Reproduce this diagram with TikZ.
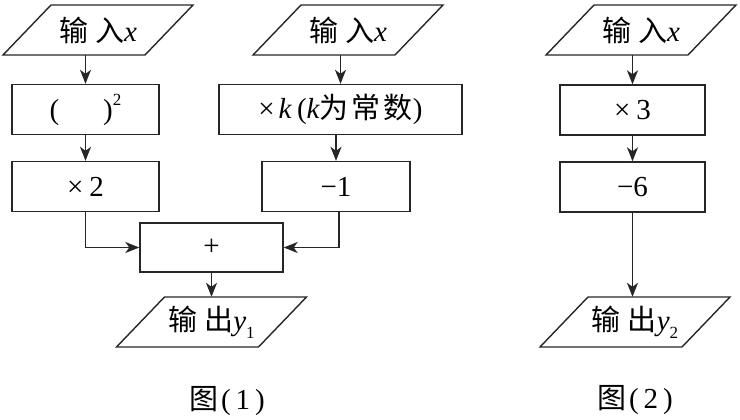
\documentclass[tikz,border=0pt]{standalone}
\usepackage{fontspec}
\setmainfont{Liberation Serif}
\newfontfamily\cjk{Noto Sans CJK SC}
\usetikzlibrary{arrows.meta}
\tikzset{
  box/.style={draw=black!85, line width=1.4pt, rectangle, minimum height=50pt, inner sep=0pt},
  ptext/.style={minimum height=50pt, minimum width=60pt, inner sep=0pt},
  pline/.style={draw=black!85, line width=1.4pt, line join=miter},
  arr/.style={draw=black!85, line width=1.4pt, -{Stealth[length=14pt,width=11pt,inset=4pt]}},
  captext/.style={inner sep=0pt},
}
\newcommand{\para}[4]{%
  \node[ptext] (#1) at (#2,#3) {#4};
  \draw[pline] ([shift={(-47,-25)}]#1.center) -- ([shift={(95,-25)}]#1.center)
    -- ([shift={(47,25)}]#1.center) -- ([shift={(-95,25)}]#1.center) -- cycle;}
\newcommand{\sm}[1]{{\fontsize{17}{17}\selectfont #1}}
\newcommand{\gap}{\hspace{7pt}}
\begin{document}
\begin{tikzpicture}[x=1pt,y=-1pt,font=\fontsize{29}{33}\selectfont]
\useasboundingbox (0,0) rectangle (740,420);
% figure 1, left column
\para{in1}{98}{30}{{\cjk 输\gap 入}\textit{x}}
\node[box, minimum width=147pt] (sq) at (85.5,109.5) {(\hspace{44pt})\raisebox{14pt}{\sm{2}}};
\node[box, minimum width=147pt] (m2) at (85.5,186.5) {×\hspace{6pt}2};
% figure 1, right column
\para{in2}{348}{30}{{\cjk 输\gap 入}\textit{x}}
\node[box, minimum width=243pt] (mk) at (340.5,109.5) {×\hspace{4pt}\textit{k}\hspace{5pt}(\textit{k}{\cjk 为\hspace{3pt}常\hspace{3pt}数})};
\node[box, minimum width=148pt] (m1) at (336,186.5) {−1};
% merge
\node[box, minimum width=143pt, minimum height=49pt] (plus) at (211.5,247.5) {+};
\para{out1}{211.5}{322}{{\cjk 输\gap 出}\textit{y}\raisebox{-8pt}{\sm{1}}}
% figure 2
\para{in3}{641}{30}{{\cjk 输\gap 入}\textit{x}}
\node[box, minimum width=145pt] (m3) at (632.5,110) {×\hspace{6pt}3};
\node[box, minimum width=145pt] (m6) at (632.5,187) {−6};
\para{out2}{635}{322}{{\cjk 输\gap 出}\textit{y}\raisebox{-8pt}{\sm{2}}}
% captions
\node[captext] (c1) at (227,401) {{\cjk 图}\hspace{3pt}(\hspace{5pt}1\hspace{5pt})};
\node[captext] (c2) at (635,400) {{\cjk 图}\hspace{3pt}(\hspace{5pt}2\hspace{5pt})};
% connectors
\draw[arr] (in1.south -| sq.north) -- (sq.north);
\draw[arr] (sq.south) -- (m2.north);
\draw[arr] (in2.south -| mk.north) -- (mk.north);
\draw[arr] (mk.south -| m1.north) -- (m1.north);
\draw[arr] (m2.south) |- (plus.west);
\draw[arr] ([xshift=3pt]m1.south) |- (plus.east);
\draw[arr] (plus.south) -- (out1.north);
\draw[arr] (in3.south -| m3.north) -- (m3.north);
\draw[arr] (m3.south) -- (m6.north);
\draw[arr] (m6.south) -- (m6.south |- out2.north);
\end{tikzpicture}
\end{document}
